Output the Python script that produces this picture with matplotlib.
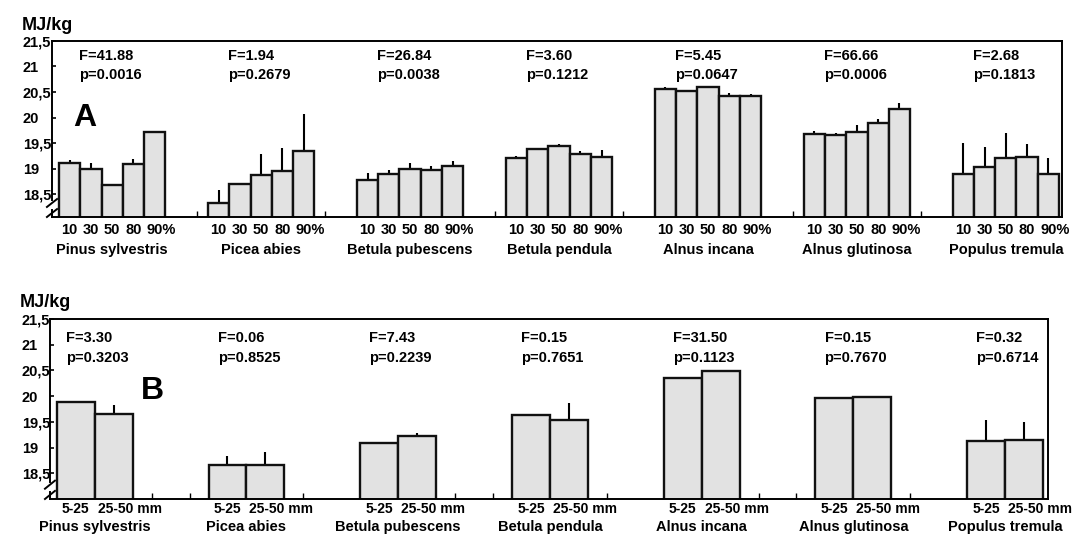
import matplotlib.pyplot as plt

plt.rcParams['font.family'] = ['Liberation Sans', 'DejaVu Sans']
plt.rcParams['font.weight'] = 'bold'

species = ["Pinus sylvestris", "Picea abies", "Betula pubescens", "Betula pendula",
           "Alnus incana", "Alnus glutinosa", "Populus tremula"]
yticks = [18.5, 19, 19.5, 20, 20.5, 21, 21.5]
ytick_labels = ["18,5", "19", "19,5", "20", "20,5", "21", "21,5"]

# A: sampling height along the stem (% of tree height)
heights = ["10", "30", "50", "80", "90%"]
a_mean = [
    [19.10, 19.00, 18.67, 19.09, 19.72],
    [18.33, 18.70, 18.87, 18.96, 19.35],
    [18.77, 18.90, 19.00, 18.98, 19.05],
    [19.20, 19.38, 19.45, 19.28, 19.23],
    [20.56, 20.51, 20.60, 20.43, 20.42],
    [19.68, 19.66, 19.71, 19.90, 20.17],
    [18.90, 19.03, 19.20, 19.23, 18.89],
]
a_err = [
    [0.06, 0.10, 0.03, 0.09, 0.02],
    [0.24, 0.02, 0.42, 0.44, 0.72],
    [0.15, 0.08, 0.11, 0.07, 0.10],
    [0.05, 0.03, 0.03, 0.07, 0.14],
    [0.03, 0.02, 0.02, 0.05, 0.05],
    [0.05, 0.04, 0.14, 0.08, 0.11],
    [0.61, 0.40, 0.50, 0.25, 0.31],
]
a_F = ["41.88", "1.94", "26.84", "3.60", "5.45", "66.66", "2.68"]
a_p = ["0.0016", "0.2679", "0.0038", "0.1212", "0.0647", "0.0006", "0.1813"]

# B: branch diameter class
diameters = ["5-25", "25-50 mm"]
b_mean = [
    [19.89, 19.66],
    [18.67, 18.66],
    [19.08, 19.23],
    [19.63, 19.53],
    [20.36, 20.49],
    [19.97, 19.99],
    [19.12, 19.14],
]
b_err = [
    [0.00, 0.16],
    [0.17, 0.25],
    [0.02, 0.05],
    [0.02, 0.33],
    [0.02, 0.02],
    [0.02, 0.00],
    [0.41, 0.36],
]
b_F = ["3.30", "0.06", "7.43", "0.15", "31.50", "0.15", "0.32"]
b_p = ["0.3203", "0.8525", "0.2239", "0.7651", "0.1123", "0.7670", "0.6714"]


def draw_panel(ax, means, errs, labels, F, p, step, xlim, ylim, cfg):
    n = len(labels)
    for g in range(len(means)):
        xs = [step * g + i for i in range(n)]
        tops = [m + e for m, e in zip(means[g], errs[g])]
        ax.vlines(xs, means[g], tops, color='black', lw=1.5, zorder=1)
        ax.bar(xs, means[g], width=1.0, color='#e2e2e2', edgecolor='#111111',
               linewidth=1.7, zorder=2)
        # per-bar labels under the axis
        for i, lab in enumerate(labels):
            if i == n - 1:
                x, ha = xs[i] - cfg['last_shift'], 'left'
            else:
                x, ha = xs[i], 'center'
            ax.annotate(lab, xy=(x, 0), xycoords=('data', 'axes fraction'),
                        xytext=(0, -cfg['lab_off']), textcoords='offset points',
                        ha=ha, va='center', fontsize=cfg['lab_size'])
        ax.annotate(species[g], xy=((xs[0] + xs[-1]) / 2, 0),
                    xycoords=('data', 'axes fraction'),
                    xytext=(0, -cfg['name_off']), textcoords='offset points',
                    ha='center', va='center', fontsize=10.5)
        tx = step * g + cfg['text_dx']
        ax.text(tx, cfg['F_y'], "F=" + F[g], fontsize=10.5, ha='left', va='center')
        ax.text(tx, cfg['p_y'], "p=" + p[g], fontsize=10.5, ha='left', va='center')

    ax.set_xlim(*xlim)
    ax.set_ylim(*ylim)
    ax.set_yticks(yticks)
    ax.set_yticklabels(ytick_labels, fontsize=10.5)
    for lbl in ax.get_yticklabels():
        lbl.set_ha('left')
    ax.tick_params(axis='y', direction='in', length=3, width=1.2, pad=cfg['ypad'])
    ax.set_xticks(cfg['xmarks'])
    ax.tick_params(axis='x', direction='in', length=4, width=1.0, labelbottom=False)
    for s in ['top', 'right', 'bottom']:
        ax.spines[s].set_linewidth(1.4)
    ax.spines['left'].set_visible(False)

    # broken y axis near the origin
    kw = dict(transform=ax.transAxes, color='black', lw=1.4, clip_on=False)
    ax.plot([0, 0], [cfg['gap_hi'], 1], **kw)
    ax.plot([0, 0], [0, cfg['gap_lo']], **kw)
    ax.plot([-0.005, 0.005], [cfg['gap_hi'] - 0.04, cfg['gap_hi'] + 0.005], **kw)
    ax.plot([-0.005, 0.005], [cfg['gap_lo'] - 0.04, cfg['gap_lo'] + 0.005], **kw)

    ax.text(-0.03, 1.09, "MJ/kg", transform=ax.transAxes, fontsize=13,
            ha='left', va='center')


fig = plt.figure(figsize=(10.72, 5.35), dpi=100)

ax_a = fig.add_axes([0.0485, 0.5944, 0.9422, 0.3290])
draw_panel(ax_a, a_mean, a_err, heights, a_F, a_p, 7, (-0.83, 46.64), (18.05, 21.5),
           dict(last_shift=0.39, lab_off=9.4, name_off=23.8, lab_size=10.5,
                text_dx=0.45, F_y=21.20, p_y=20.83, ypad=20.9,
                xmarks=[6, 12, 20, 26, 34, 40], gap_hi=0.097, gap_lo=0.04))
ax_a.text(0.15, 20.0, "A", fontsize=23, ha='left', va='center')

ax_b = fig.add_axes([0.0466, 0.0673, 0.9310, 0.3364])
draw_panel(ax_b, b_mean, b_err, diameters, b_F, b_p, 4, (-0.68, 25.63), (18.0, 21.5),
           dict(last_shift=0.42, lab_off=7.2, name_off=20.2, lab_size=10,
                text_dx=-0.26, F_y=21.13, p_y=20.74, ypad=20.2,
                xmarks=[2, 3, 6, 10, 11, 14, 18, 19, 22], gap_hi=0.097, gap_lo=0.04))
ax_b.text(1.72, 20.1, "B", fontsize=23, ha='left', va='center')

fig.savefig("out.png", dpi=100)
